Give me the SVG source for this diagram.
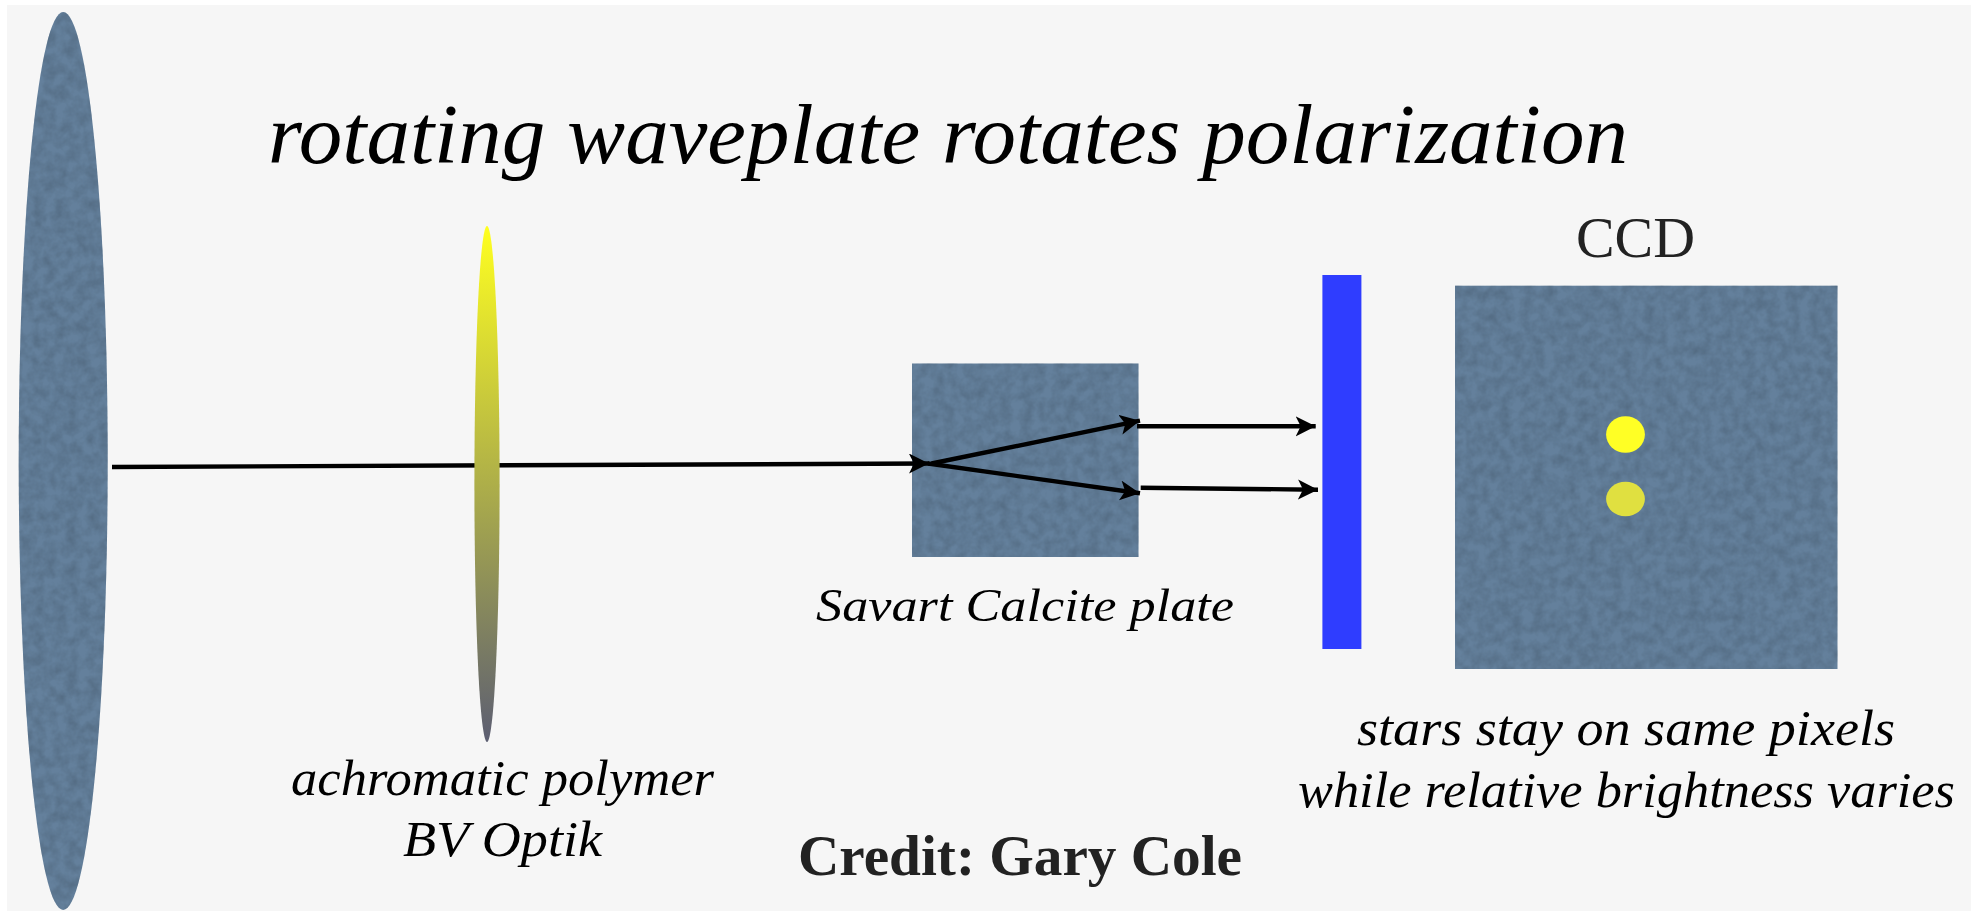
<svg xmlns="http://www.w3.org/2000/svg" width="1979" height="911" viewBox="0 0 1979 911">
<style>
.hand{font-family:"Liberation Serif","Times New Roman",serif;font-style:italic;fill:#000}
.conn{fill:none;stroke:#000;stroke-width:4.4}
.slate{fill:#64809c;filter:url(#mottle)}
</style>
<defs>
<linearGradient id="lensGrad" x1="0" y1="0" x2="0" y2="1">
<stop offset="0" stop-color="#ffff20"/>
<stop offset="1" stop-color="#5c5e72"/>
</linearGradient>
<filter id="mottle" x="0" y="0" width="100%" height="100%" color-interpolation-filters="sRGB">
<feTurbulence type="fractalNoise" baseFrequency="0.09" numOctaves="3" seed="4" result="n"/>
<feColorMatrix in="n" type="matrix" values="0 0 0 0 0.28  0 0 0 0 0.36  0 0 0 0 0.44  0.9 0 0 0 -0.28" result="d"/>
<feComposite in="d" in2="SourceGraphic" operator="in" result="dc"/>
<feMerge><feMergeNode in="SourceGraphic"/><feMergeNode in="dc"/></feMerge>
</filter>
<marker id="head" markerUnits="userSpaceOnUse" markerWidth="22" markerHeight="22" refX="20" refY="10" orient="auto" viewBox="0 0 22 22">
<path d="M0 0L20 10L0 20L5 10Z" fill="#000"/>
</marker>
</defs>
<rect id="page" x="7" y="5" width="1964" height="906" fill="#f6f6f6"/>
<g id="primary-lens"><ellipse class="slate" cx="63.2" cy="461" rx="44.5" ry="449"/></g>
<g id="savart-plate"><rect class="slate" x="912" y="363.5" width="226.5" height="193.5"/></g>
<g id="connectors">
<path class="conn" d="M112 467L929 463.5" marker-end="url(#head)"/>
<path class="conn" d="M931.5 463.5L1140 420.7" marker-end="url(#head)"/>
<path class="conn" d="M928 463.5L1140 493.3" marker-end="url(#head)"/>
<path class="conn" d="M1137 426.3L1315.7 426.3" marker-end="url(#head)"/>
<path class="conn" d="M1140.7 487.7L1318 489.7" marker-end="url(#head)"/>
</g>
<g id="waveplate"><ellipse cx="487" cy="484" rx="12.6" ry="258" fill="url(#lensGrad)"/></g>
<g id="analyzer"><rect x="1322.4" y="275" width="39" height="374" fill="#2f3dff"/></g>
<g id="ccd">
<rect class="slate" x="1455" y="285.7" width="382.5" height="383.3"/>
<ellipse cx="1625.5" cy="434.5" rx="19.4" ry="18.3" fill="#ffff25"/>
<ellipse cx="1625.5" cy="499" rx="19.4" ry="17.2" fill="#e0e040"/>
<text x="1576" y="257" font-family="'Liberation Serif',serif" font-size="58" fill="#222" textLength="119" lengthAdjust="spacingAndGlyphs">CCD</text>
</g>
<g id="labels">
<text class="hand" x="268" y="163" font-size="84" textLength="1360" lengthAdjust="spacingAndGlyphs">rotating waveplate rotates polarization</text>
<text class="hand" x="816" y="621" font-size="46" textLength="418" lengthAdjust="spacingAndGlyphs">Savart Calcite plate</text>
<text class="hand" x="291" y="795" font-size="50" textLength="423" lengthAdjust="spacingAndGlyphs">achromatic polymer</text>
<text class="hand" x="403" y="856" font-size="50" textLength="199" lengthAdjust="spacingAndGlyphs">BV Optik</text>
<text class="hand" x="1357" y="745" font-size="50" textLength="538" lengthAdjust="spacingAndGlyphs">stars stay on same pixels</text>
<text class="hand" x="1298" y="807" font-size="50" textLength="657" lengthAdjust="spacingAndGlyphs">while relative brightness varies</text>
<text x="798" y="875" font-family="'Liberation Serif',serif" font-weight="700" font-size="56" fill="#222" textLength="444" lengthAdjust="spacingAndGlyphs">Credit: Gary Cole</text>
</g>
</svg>
